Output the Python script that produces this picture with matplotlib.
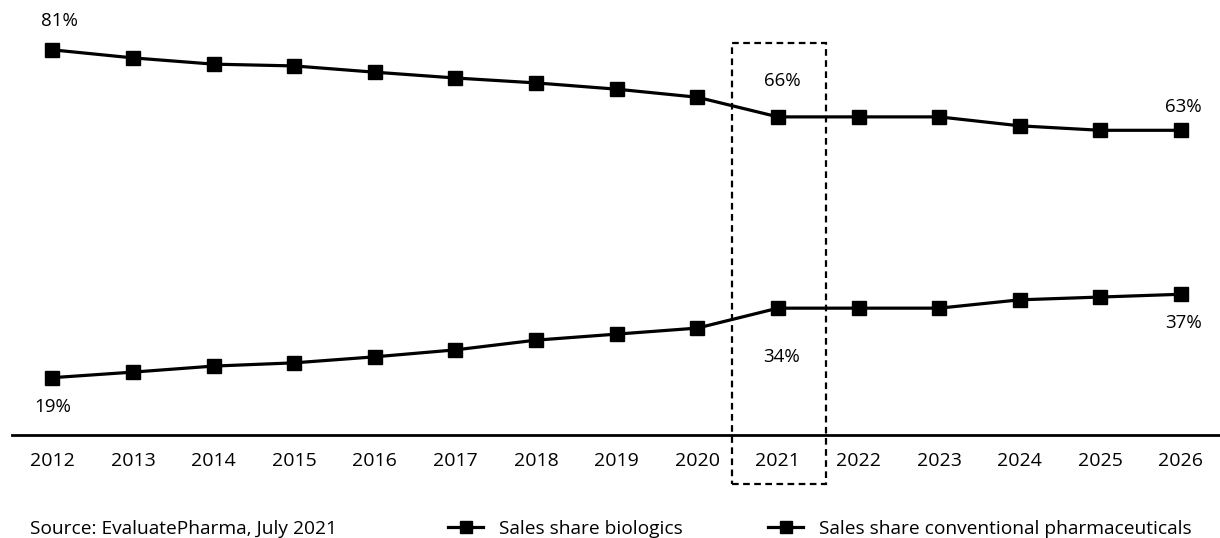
import matplotlib
matplotlib.use("Agg")
import matplotlib.pyplot as plt
from matplotlib.patches import Rectangle

plt.rcParams['font.family'] = ['Open Sans', 'DejaVu Sans']

# data (sales share in %)
years = list(range(2012, 2027))
share_conventional = [81, 79.2, 77.8, 77.4, 76, 74.7, 73.6, 72.2, 70.4, 66, 66, 66, 64, 63, 63]
share_biologics = [19, 20.2, 21.5, 22.2, 23.5, 25, 27.1, 28.4, 29.7, 34, 34, 34, 35.8, 36.4, 37]
highlight_year = 2021
source_text = "Source: EvaluatePharma, July 2021"

W, H = 1220, 538
fig = plt.figure(figsize=(W / 100, H / 100), dpi=100)
# axes: left edge at 12px, bottom spine at 435px
ax = fig.add_axes([12 / W, (H - 435) / H, 1 - 12 / W, 435 / H])
ax2 = ax.twinx()  # the two series were drawn on separate scales in the source

ax.set_xlim(2011.5, 2026.484)
ax.set_ylim(6.63, 100.5)
ax2.set_ylim(-5.17, 92.15)

line_kw = dict(color='black', lw=2.3, marker='s', markersize=10.5)
l_bio, = ax.plot(years, share_biologics, label='Sales share biologics', **line_kw)
l_conv, = ax2.plot(years, share_conventional,
                   label='Sales share conventional pharmaceuticals', **line_kw)

for a in (ax, ax2):
    for s in ['top', 'left', 'right']:
        a.spines[s].set_visible(False)
    a.set_yticks([])
ax2.spines['bottom'].set_visible(False)
ax.spines['bottom'].set_linewidth(2)
ax.set_xticks(years)
ax.set_xticklabels([str(y) for y in years], fontsize=14)
ax.tick_params(axis='x', length=0, pad=12)


def label(a, x, y, txt, dy, dx=0):
    a.annotate(txt, (x, y), xytext=(dx, dy), textcoords='offset points',
               ha='center', va='center', fontsize=13.5)


i_hl = years.index(highlight_year)
label(ax2, years[0], share_conventional[0], f"{share_conventional[0]:.0f}%", 20.5, 5)
label(ax, years[0], share_biologics[0], f"{share_biologics[0]:.0f}%", -21, 0)
label(ax2, years[i_hl], share_conventional[i_hl], f"{share_conventional[i_hl]:.0f}%", 25.5, 3)
label(ax, years[i_hl], share_biologics[i_hl], f"{share_biologics[i_hl]:.0f}%", -35, 3)
label(ax2, years[-1], share_conventional[-1], f"{share_conventional[-1]:.0f}%", 16.5, 2)
label(ax, years[-1], share_biologics[-1], f"{share_biologics[-1]:.0f}%", -20.5, 2)

# dotted box around the highlighted year (x in data, y in axes fraction)
box = Rectangle((highlight_year - 0.57, -0.1126), 1.17, 1.0136, fill=False,
                ec='black', lw=1.6, ls=(0, (3, 2)), clip_on=False,
                transform=ax.get_xaxis_transform())
ax.add_patch(box)

y_leg = (H - 529) / H
fig.text(30 / W, y_leg, source_text, fontsize=13.8, va='center', ha='left')

leg_kw = dict(loc='center left', frameon=False, fontsize=13.8, handlelength=1.85,
              handletextpad=0.8, borderpad=0, borderaxespad=0, markerscale=0.85)
leg1 = fig.legend(handles=[l_bio], bbox_to_anchor=(448 / W, y_leg), **leg_kw)
leg2 = fig.legend(handles=[l_conv], bbox_to_anchor=(768 / W, y_leg), **leg_kw)

fig.savefig('out.png', dpi=100)
